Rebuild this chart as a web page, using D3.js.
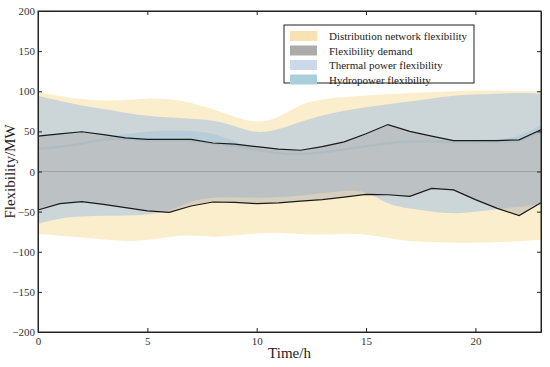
<!DOCTYPE html>
<html>
<head>
<meta charset="utf-8">
<script src="https://cdn.jsdelivr.net/npm/d3@7"></script>
<style>
  body { margin: 0; background: #fff; }
  svg text { font-family: "Liberation Serif", "Times New Roman", serif; }
</style>
</head>
<body>
<div id="chart"></div>
<script>
// hourly data
const hours = d3.range(0, 24);

const distUpper = [99, 94, 90, 88, 89, 91, 91, 86, 78, 68, 60, 66, 85, 90, 93, 95, 96, 98, 99, 100, 101, 101, 100, 100];
const distLower = [-78, -80, -82, -85, -87, -86, -81, -79, -82, -80, -77, -76, -78, -79, -77, -78, -83, -87, -88, -89, -89, -88, -87, -85];

const thermUpper = [94, 88, 82, 78, 73, 69, 67, 66, 64, 57, 47, 52, 62, 70, 76, 80, 84, 87, 91, 95, 96, 97, 98, 97];
const thermLower = [-65, -58, -56, -55, -55, -54, -50, -36, -32, -32, -33, -32, -30, -27, -24, -23, -42, -46, -50, -53, -50, -47, -44, -41];

const hydroUpper = [30, 32, 36, 42, 47, 50, 51, 51, 48, 37, 28, 24, 23, 25, 29, 33, 37, 39, 39, 39, 39, 40, 43, 58];
const hydroLower = [27, 29, 33, 39, 39, 37, 37, 37, 33, 31, 25, 21, 20, 22, 26, 30, 34, 36, 36, 35, 35, 35, 36, 48];

const demandUpper = [44, 47, 49.5, 46, 42, 40, 40, 40, 35.5, 34, 31, 28, 26.5, 31, 37, 47, 58.5, 50, 44, 38.5, 38.5, 38.5, 39.5, 52];
const demandLower = [-48, -40, -37.5, -41, -45, -49, -51, -43, -38, -38.5, -40, -39, -37, -35, -32, -28.5, -29, -31, -21, -23, -35, -46, -55, -39];

const legendLabels = ["Distribution network flexibility", "Flexibility demand", "Thermal power flexibility", "Hydropower flexibility"];
const legendColors = ["#f8e2b2", "#ababab", "#cbd9ea", "#a9cfdc"];

const yTicks = [-200, -150, -100, -50, 0, 50, 100, 150, 200];
const xTicks = [0, 5, 10, 15, 20];

const width = 550, height = 367;
const margin = {top: 11, right: 9, bottom: 35, left: 38};
const serif = "'Liberation Serif', 'Times New Roman', serif";

const svg = d3.select("#chart")
  .append("svg")
  .attr("width", width)
  .attr("height", height);

const xScale = d3.scaleLinear()
  .domain([0, 23])
  .range([margin.left, width - margin.right]);

const yScale = d3.scaleLinear()
  .domain([-200, 200])
  .range([height - margin.bottom, margin.top]);

function band(upper, lower) {
  return d3.area()
    .x((d, i) => xScale(hours[i]))
    .y0((d, i) => yScale(lower[i]))
    .y1((d, i) => yScale(upper[i]))
    .curve(d3.curveBasis)(hours);
}

// bands
svg.append("path").attr("d", band(distUpper, distLower))
  .attr("fill", "#f9e3aa").attr("fill-opacity", 0.6);
svg.append("path").attr("d", band(thermUpper, thermLower))
  .attr("fill", "#aec4de").attr("fill-opacity", 0.6);
svg.append("path").attr("d", band(hydroUpper, hydroLower))
  .attr("fill", "#8cbfd8").attr("fill-opacity", 0.32);

const demandArea = d3.area()
  .x((d, i) => xScale(hours[i]))
  .y0((d, i) => yScale(demandLower[i]))
  .y1((d, i) => yScale(demandUpper[i]));
svg.append("path").attr("d", demandArea(hours))
  .attr("fill", "#a8a8ab").attr("fill-opacity", 0.45);

// zero line
svg.append("line")
  .attr("x1", xScale(0)).attr("x2", xScale(23))
  .attr("y1", yScale(0)).attr("y2", yScale(0))
  .attr("stroke", "#9a9a9a").attr("stroke-width", 0.8);

// demand bounds
const line = d3.line()
  .x((d, i) => xScale(hours[i]))
  .y(d => yScale(d));
[demandUpper, demandLower].forEach(s => {
  svg.append("path").attr("d", line(s))
    .attr("fill", "none").attr("stroke", "#1a1a1a").attr("stroke-width", 1.2);
});

// axes, ticks inside
const fmt = d => d < 0 ? "\u2212" + Math.abs(d) : String(d);

const yAxis = svg.append("g")
  .attr("transform", `translate(${margin.left},0)`)
  .call(d3.axisLeft(yScale).tickValues(yTicks).tickSizeInner(-4).tickSizeOuter(0).tickPadding(3).tickFormat(fmt));
yAxis.attr("font-family", serif).attr("font-size", 11);
yAxis.selectAll("text").attr("fill", "#333");

const xAxis = svg.append("g")
  .attr("transform", `translate(0,${height - margin.bottom})`)
  .call(d3.axisBottom(xScale).tickValues(xTicks).tickSizeInner(-4).tickSizeOuter(0).tickPadding(5).tickFormat(fmt));
xAxis.attr("font-family", serif).attr("font-size", 11);
xAxis.selectAll("text").attr("fill", "#333");

svg.append("g")
  .attr("transform", `translate(${width - margin.right},0)`)
  .call(d3.axisRight(yScale).tickValues(yTicks).tickSizeInner(-4).tickSizeOuter(0).tickFormat(""));
svg.append("g")
  .attr("transform", `translate(0,${margin.top})`)
  .call(d3.axisTop(xScale).tickValues(xTicks).tickSizeInner(-4).tickSizeOuter(0).tickFormat(""));

svg.selectAll(".domain").attr("stroke", "#222");
svg.selectAll(".tick line").attr("stroke", "#222");

// frame
svg.append("rect")
  .attr("x", xScale(0)).attr("y", yScale(200))
  .attr("width", xScale(23) - xScale(0)).attr("height", yScale(-200) - yScale(200))
  .attr("fill", "none").attr("stroke", "#222").attr("stroke-width", 1);

// axis titles
svg.append("text")
  .attr("x", (xScale(0) + xScale(23)) / 2).attr("y", 358)
  .attr("text-anchor", "middle").attr("font-size", "15px").attr("fill", "#222")
  .text("Time/h");
svg.append("text")
  .attr("transform", `translate(15,${yScale(0)}) rotate(-90)`)
  .attr("text-anchor", "middle").attr("font-size", "15px").attr("fill", "#222")
  .text("Flexibility/MW");

// legend
const lg = svg.append("g").attr("transform", "translate(284,25)");
lg.append("rect").attr("width", 190).attr("height", 58)
  .attr("fill", "#fff").attr("stroke", "#222").attr("stroke-width", 1);
legendLabels.forEach((t, i) => {
  const yy = 6 + i * 14.5;
  lg.append("rect").attr("x", 6).attr("y", yy).attr("width", 27).attr("height", 10)
    .attr("fill", legendColors[i]);
  lg.append("text").attr("x", 45).attr("y", yy + 9)
    .attr("font-size", "11px").attr("fill", "#222").text(t);
});
</script>
</body>
</html>
